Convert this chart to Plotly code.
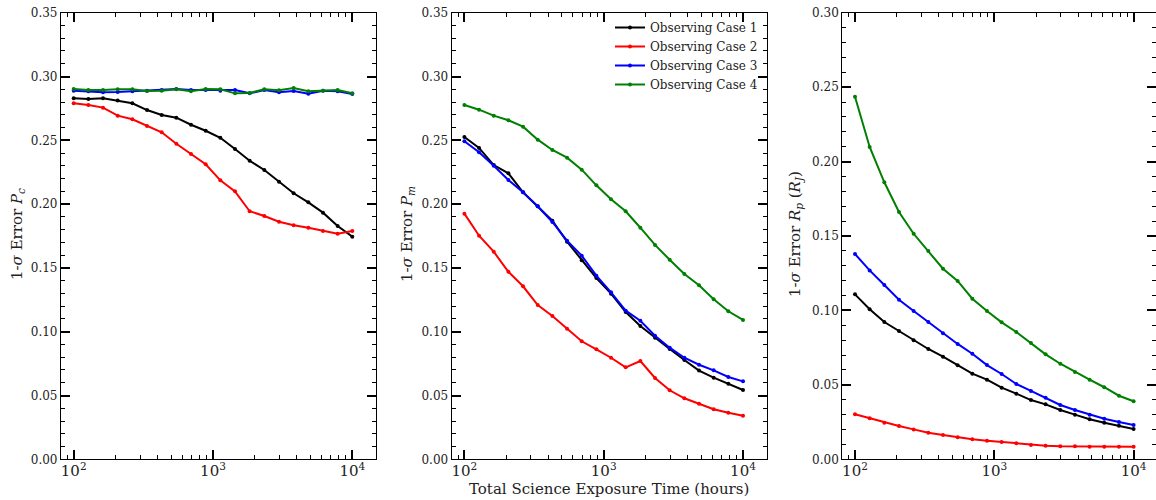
import numpy as np
import plotly.graph_objects as go

# ---- data ----
hours = np.logspace(2, 4, 20)

case_names = ["Observing Case 1", "Observing Case 2", "Observing Case 3", "Observing Case 4"]
case_colors = ["black", "#ff0000", "#0000ff", "#008000"]

pc_case1 = [0.2829, 0.2824, 0.2829, 0.2811, 0.2790, 0.2737, 0.2698, 0.2677, 0.2622, 0.2575,
            0.2520, 0.2432, 0.2340, 0.2267, 0.2176, 0.2085, 0.2014, 0.1933, 0.1828, 0.1745]
pc_case2 = [0.2790, 0.2777, 0.2756, 0.2693, 0.2665, 0.2612, 0.2563, 0.2473, 0.2393, 0.2312,
            0.2186, 0.2100, 0.1944, 0.1907, 0.1862, 0.1834, 0.1815, 0.1789, 0.1768, 0.1789]
pc_case3 = [0.2889, 0.2884, 0.2876, 0.2879, 0.2884, 0.2889, 0.2894, 0.2902, 0.2894, 0.2894,
            0.2889, 0.2894, 0.2868, 0.2894, 0.2876, 0.2887, 0.2865, 0.2889, 0.2884, 0.2863]
pc_case4 = [0.2902, 0.2894, 0.2894, 0.2900, 0.2900, 0.2887, 0.2889, 0.2900, 0.2884, 0.2902,
            0.2900, 0.2868, 0.2871, 0.2900, 0.2892, 0.2910, 0.2884, 0.2889, 0.2894, 0.2868]

pm_case1 = [0.2526, 0.2440, 0.2306, 0.2241, 0.2092, 0.1983, 0.1870, 0.1705, 0.1559, 0.1421,
            0.1298, 0.1154, 0.1045, 0.0953, 0.0864, 0.0778, 0.0695, 0.0640, 0.0593, 0.0543]
pm_case2 = [0.1925, 0.1752, 0.1627, 0.1470, 0.1356, 0.1209, 0.1123, 0.1024, 0.0925, 0.0862,
            0.0796, 0.0721, 0.0770, 0.0637, 0.0541, 0.0478, 0.0436, 0.0392, 0.0365, 0.0342]
pm_case3 = [0.2492, 0.2406, 0.2301, 0.2189, 0.2092, 0.1983, 0.1860, 0.1713, 0.1596, 0.1439,
            0.1309, 0.1165, 0.1086, 0.0969, 0.0875, 0.0796, 0.0741, 0.0697, 0.0645, 0.0611]
pm_case4 = [0.2777, 0.2740, 0.2693, 0.2657, 0.2607, 0.2505, 0.2424, 0.2364, 0.2270, 0.2147,
            0.2038, 0.1944, 0.1815, 0.1680, 0.1564, 0.1452, 0.1364, 0.1254, 0.1160, 0.1092]

rp_case1 = [0.1108, 0.1008, 0.0922, 0.0862, 0.0799, 0.0741, 0.0689, 0.0631, 0.0575, 0.0535,
            0.0481, 0.0441, 0.0398, 0.0369, 0.0331, 0.0300, 0.0269, 0.0246, 0.0226, 0.0204]
rp_case2 = [0.0302, 0.0275, 0.0246, 0.0224, 0.0201, 0.0179, 0.0163, 0.0148, 0.0134, 0.0125,
            0.0116, 0.0107, 0.0096, 0.0091, 0.0087, 0.0087, 0.0085, 0.0085, 0.0085, 0.0085]
rp_case3 = [0.1379, 0.1269, 0.1171, 0.1072, 0.0996, 0.0922, 0.0846, 0.0775, 0.0709, 0.0633,
            0.0573, 0.0506, 0.0459, 0.0414, 0.0365, 0.0331, 0.0300, 0.0273, 0.0251, 0.0230]
rp_case4 = [0.2436, 0.2098, 0.1861, 0.1661, 0.1515, 0.1399, 0.1280, 0.1198, 0.1079, 0.0996,
            0.0920, 0.0855, 0.0781, 0.0705, 0.0642, 0.0586, 0.0535, 0.0484, 0.0427, 0.0390]

panels = [
    [pc_case1, pc_case2, pc_case3, pc_case4],
    [pm_case1, pm_case2, pm_case3, pm_case4],
    [rp_case1, rp_case2, rp_case3, rp_case4],
]
y_titles = [
    "1-<i>σ</i> Error <i>P<sub>c</sub></i>",
    "1-<i>σ</i> Error <i>P<sub>m</sub></i>",
    "1-<i>σ</i> Error <i>R<sub>p</sub></i> (<i>R<sub>J</sub></i>)",
]
y_ranges = [[0, 0.35], [0, 0.35], [0, 0.30]]
x_title = "Total Science Exposure Time (hours)"

# ---- layout geometry (pixels) ----
W, H = 1156, 500
FONT = "DejaVu Serif"
x_px = [(61.0, 376.3), (451.7, 767.0), (842.3, 1156.0)]
y_top, y_bot = 12.7, 459.3
px_per_decade = 139.3
log_left = 2 - 12.7 / px_per_decade

fig = go.Figure()
for p, series in enumerate(panels):
    ax = "" if p == 0 else str(p + 1)
    for i, ys in enumerate(series):
        fig.add_trace(go.Scatter(
            x=hours, y=ys, mode="lines+markers",
            name=case_names[i],
            line=dict(color=case_colors[i], width=2),
            marker=dict(color=case_colors[i], size=4),
            xaxis="x" + ax, yaxis="y" + ax,
            showlegend=(p == 1),
        ))

axis_common = dict(
    showline=True, linecolor="black", linewidth=1.2, mirror="allticks",
    ticks="inside", ticklen=9, tickwidth=2, tickcolor="black",
    showgrid=False, zeroline=False,
    tickfont=dict(family=FONT, size=12, color="#222222"),
)

layout = dict(
    width=W, height=H,
    margin=dict(l=0, r=0, t=0, b=0, autoexpand=False),
    paper_bgcolor="white", plot_bgcolor="white",
    font=dict(family=FONT, color="#222222"),
    legend=dict(
        x=763 / W, xanchor="right", y=1 - 13 / H, yanchor="top",
        bgcolor="rgba(255,255,255,0)", font=dict(family=FONT, size=12, color="#222222"),
        tracegroupgap=0,
    ),
    annotations=[],
)

for p in range(3):
    sfx = "" if p == 0 else str(p + 1)
    x0, x1 = x_px[p]
    log_r = log_left + (x1 - x0) / px_per_decade
    layout["xaxis" + sfx] = dict(
        axis_common,
        type="log", domain=[x0 / W, x1 / W], range=[log_left, log_r],
        anchor="y" + sfx,
        dtick=1, exponentformat="power", ticklabelstandoff=-2,
        minor=dict(ticks="inside", ticklen=4, tickwidth=1, tickcolor="black", showgrid=False),
    )
    layout["yaxis" + sfx] = dict(
        axis_common,
        domain=[1 - y_bot / H, 1 - y_top / H], range=y_ranges[p],
        anchor="x" + sfx,
        dtick=0.05, tickformat=".2f",
        minor=dict(ticks="inside", ticklen=4, tickwidth=1, tickcolor="black", dtick=0.01, showgrid=False),
    )

title_x_px = [17, 407, 795]
for p in range(3):
    layout["annotations"].append(dict(
        text=y_titles[p], xref="paper", yref="paper",
        x=title_x_px[p] / W, y=1 - 234 / H, textangle=-90,
        showarrow=False, xanchor="center", yanchor="middle",
        font=dict(family=FONT, size=15, color="#222222"),
    ))
layout["annotations"].append(dict(
    text=x_title, xref="paper", yref="paper",
    x=609 / W, y=1 - 489 / H, showarrow=False,
    xanchor="center", yanchor="middle",
    font=dict(family=FONT, size=15, color="#222222"),
))

fig.update_layout(**layout)
fig.write_html("out.html")
